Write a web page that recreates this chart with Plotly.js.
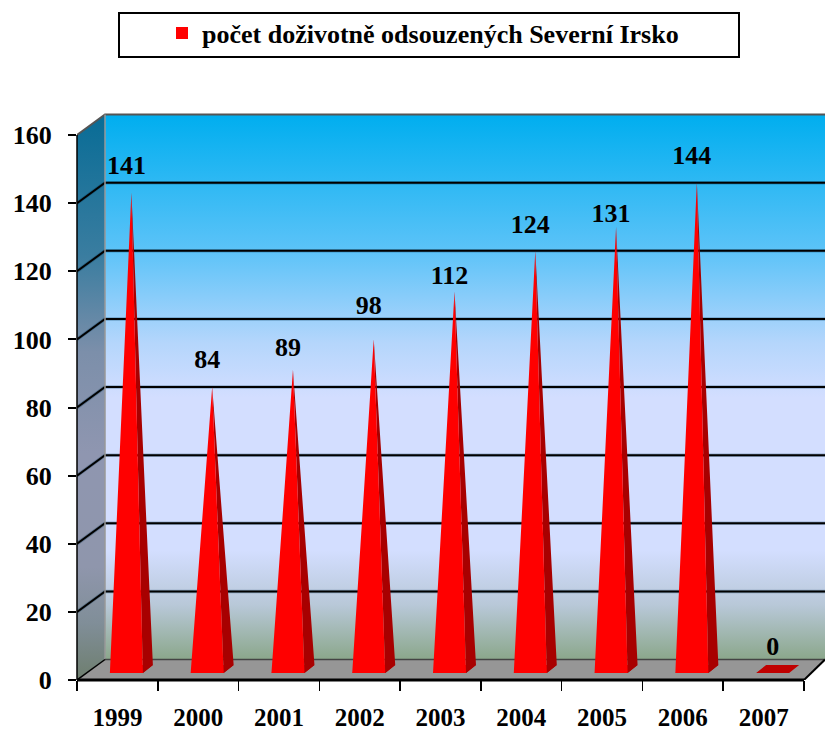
<!DOCTYPE html>
<html><head><meta charset="utf-8">
<script src="https://cdn.plot.ly/plotly-3.0.1.min.js"></script>
<style>html,body{margin:0;padding:0;background:#fff}</style></head>
<body><div id="c" style="width:825px;height:731px"></div>
<script>
const categories=['1999','2000','2001','2002','2003','2004','2005','2006','2007'];
const values=[141,84,89,98,112,124,131,144,0];
const labelGaps=[12,12,7,19,1,11,-2,12,12];
const yTicks=[0,20,40,60,80,100,120,140,160];
const seriesName='počet doživotně odsouzených Severní Irsko';
const wallStops=[[0,'#00AEEF'],[0.25,'#5CC3F8'],[0.42,'#B5D6FC'],[0.52,'#D3DEFF'],[0.8,'#D3DEFF'],[0.9,'#B8C8D8'],[1,'#8BA78B']];
const sideStops=[[0,'#086C96'],[0.25,'#3A7DA0'],[0.42,'#7C8FAA'],[0.6,'#8F96B0'],[0.8,'#8F96AC'],[0.9,'#808E98'],[1,'#6E7E6E']];

// geometry: pixel scale of the axes
const L=77,R=825,T=110,B=680,pxX=80.78,pxY=3.406;
const dx=28/pxX, dy=20.5/pxY;            // depth of the box
const xMin=-0.5, xMax=xMin+(R-L)/pxX, yMax=(B-T)/pxY, xEnd=8.5;
const topY=160;
const hw=16.5/pxX, cOff=9/pxX, apexOff=5/pxX, bY=7/pxY, sx=10/pxX, sy=8/pxY;

const poly=(xs,ys,extra)=>Object.assign({type:'scatter',mode:'lines',x:xs,y:ys,fill:'toself',line:{width:0},hoverinfo:'skip',showlegend:false},extra);
const lines=(xs,ys,color,w,extra)=>Object.assign({type:'scatter',mode:'lines',x:xs,y:ys,line:{color:color,width:w},hoverinfo:'skip',showlegend:false},extra);

const traces=[];
// back wall and left wall
traces.push(poly([xMin+dx,xMax,xMax,xMin+dx],[topY+dy,topY+dy,dy,dy],{fillcolor:'#D3DEFF',
  fillgradient:{type:'vertical',start:topY+dy,stop:dy,colorscale:wallStops}}));
traces.push(poly([xMin,xMin+dx,xMin+dx,xMin],[topY,topY+dy,dy,0],{fillcolor:'#8F96B0',
  fillgradient:{type:'vertical',start:topY+dy,stop:0,colorscale:sideStops}}));
// floor
traces.push(poly([xMin,xEnd,xMax,xMin+dx],[0,0,dy,dy],{fillcolor:'#969696'}));
// grid lines
const gx=[],gy=[];
yTicks.slice(1,-1).forEach(t=>{gx.push(xMin,xMin+dx,xMax,null);gy.push(t,t+dy,t+dy,null);});
traces.push(lines(gx,gy,'rgba(0,50,80,0.3)',3.5));
traces.push(lines(gx,gy,'#000',2));
// box edges
traces.push(lines([xMin,xMin+dx,xMax],[topY,topY+dy,topY+dy],'#555',2));
traces.push(lines([xMin+dx,xMin+dx],[dy,topY+dy],'#999',1.5));
traces.push(lines([xMin+dx,xMax],[dy,dy],'#444',1.5));
traces.push(lines([xMin,xMin+dx],[0,dy],'#000',1.5));
traces.push(lines([xEnd,xMax],[0,dy],'#000',2));

// pyramids
const bx=[],by=[],sxs=[],sys=[],fx=[],fy=[];
values.forEach((v,i)=>{
  const c=i+cOff, top=bY+v;
  bx.push(c-hw,c+hw,c+hw+sx,c-hw+sx,c-hw,null); by.push(bY,bY,bY+sy,bY+sy,bY,null);
  if(v>0){
    sxs.push(c+hw,c+hw+sx,c+apexOff,c+hw,null); sys.push(bY,bY+sy,top,bY,null);
    fx.push(c-hw,c+hw,c+apexOff,c-hw,null); fy.push(bY,bY,top,bY,null);
  }
});
traces.push(poly(bx,by,{fillcolor:'#C00000'}));
traces.push(poly(sxs,sys,{fillcolor:'#A80000'}));
traces.push(poly(fx,fy,{fillcolor:'#FF0000'}));

// value labels (also carries the category labels on x2)
traces.push({type:'scatter',mode:'text',xaxis:'x2',x:values.map((v,i)=>i+cOff),y:values.map((v,i)=>v+bY+labelGaps[i]/pxY),
  text:values.map(String),textposition:'top center',cliponaxis:false,
  textfont:{family:'Liberation Serif',size:26,color:'#000',weight:700},hoverinfo:'skip',showlegend:false});
// legend entry
traces.push({type:'scatter',mode:'markers',name:seriesName,x:[null],y:[null],marker:{symbol:'square',size:12,color:'#FF0000'},hoverinfo:'skip'});

const pxPaperX=v=>(v-L)/(R-L), pxPaperY=v=>(B-v)/(B-T);
const layout={
  width:825,height:731,margin:{l:L,r:0,t:T,b:731-B},
  paper_bgcolor:'#fff',plot_bgcolor:'#fff',
  font:{family:'Liberation Serif',color:'#000'},
  xaxis:{type:'linear',range:[xMin,xMax],tickmode:'array',tickvals:[-0.5,0.5,1.5,2.5,3.5,4.5,5.5,6.5,7.5,8.5],ticktext:['','','','','','','','','',''],
    ticks:'outside',ticklen:10,tickwidth:1.5,tickcolor:'#000',showgrid:false,zeroline:false,showline:false},
  xaxis2:{type:'linear',overlaying:'x',anchor:'y',side:'bottom',range:[xMin,xMax],tickmode:'array',tickvals:categories.map((c,i)=>i),ticktext:categories,
    ticks:'',showgrid:false,zeroline:false,showline:false,ticklabelstandoff:20,tickfont:{family:'Liberation Serif',size:25,color:'#000',weight:700}},
  yaxis:{range:[0,yMax],tickmode:'array',tickvals:yTicks,ticks:'outside',ticklen:8,tickwidth:2,tickcolor:'#000',
    showgrid:false,zeroline:false,showline:false,ticklabelstandoff:11,tickfont:{family:'Liberation Serif',size:26,color:'#000',weight:700}},
  showlegend:true,
  legend:{x:pxPaperX(162),xanchor:'left',y:pxPaperY(33),yanchor:'middle',bgcolor:'rgba(0,0,0,0)',borderwidth:0,
    font:{family:'Liberation Serif',size:26,color:'#000',weight:700},itemclick:false,itemdoubleclick:false},
  shapes:[
    {type:'line',xref:'x',yref:'paper',x0:xMin,x1:xEnd,y0:0,y1:0,line:{color:'#000',width:3},layer:'above'},
    {type:'line',xref:'paper',yref:'y',x0:0,x1:0,y0:0,y1:topY,line:{color:'#000',width:1.5},layer:'above'},
    {type:'rect',xref:'paper',yref:'paper',x0:pxPaperX(119),x1:pxPaperX(739),y0:pxPaperY(13),y1:pxPaperY(57),line:{color:'#000',width:2},fillcolor:'rgba(0,0,0,0)'}
  ]
};
Plotly.newPlot('c',traces,layout,{displayModeBar:false,staticPlot:true});
</script></body></html>
